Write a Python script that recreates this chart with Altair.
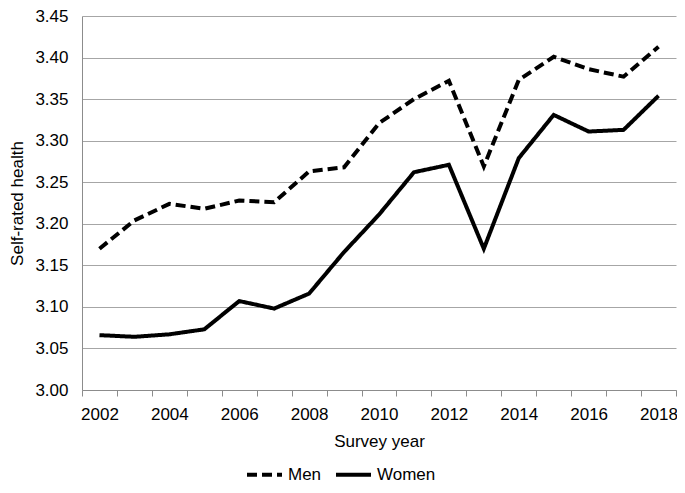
import altair as alt
import pandas as pd

years = list(range(2002, 2019))
men = [3.170, 3.204, 3.224, 3.218, 3.228, 3.226, 3.263, 3.268, 3.321, 3.350,
       3.372, 3.269, 3.373, 3.401, 3.386, 3.377, 3.413]
women = [3.066, 3.064, 3.067, 3.073, 3.107, 3.098, 3.116, 3.166, 3.211, 3.262,
         3.271, 3.170, 3.279, 3.331, 3.311, 3.313, 3.354]
series = ["Men", "Women"]
y_ticks = [3.00, 3.05, 3.10, 3.15, 3.20, 3.25, 3.30, 3.35, 3.40, 3.45]

rows = []
for name, vals in zip(series, [men, women]):
    for yr, v in zip(years, vals):
        rows.append({"year": yr, "value": v, "sex": name})
df = pd.DataFrame(rows)

FONT = "Liberation Sans"

chart = alt.Chart(df).mark_line(color="black", strokeWidth=4).encode(
    x=alt.X(
        "year:O",
        scale=alt.Scale(type="band", paddingInner=0, paddingOuter=0),
        bandPosition=0.5,
        axis=alt.Axis(
            title="Survey year",
            tickBand="extent",
            labelExpr="datum.value % 2 == 0 ? datum.label : ''",
            labelAngle=0,
            labelFont=FONT, labelFontSize=17, labelColor="black",
            titleFont=FONT, titleFontSize=17, titleFontWeight="normal", titleColor="black",
            labelPadding=10, titlePadding=11,
            tickSize=6, tickColor="#8c8c8c", domainColor="#8c8c8c",
            grid=False,
        ),
    ),
    y=alt.Y(
        "value:Q",
        scale=alt.Scale(domain=[3.0, 3.45], nice=False, zero=False),
        axis=alt.Axis(
            title="Self-rated health",
            values=y_ticks,
            format=".2f",
            ticks=False, tickSize=0,
            labelFont=FONT, labelFontSize=17, labelColor="black",
            titleFont=FONT, titleFontSize=17, titleFontWeight="normal", titleColor="black",
            labelPadding=14, titlePadding=8,
            domainColor="#8c8c8c",
            grid=True, gridColor="#a6a6a6", gridWidth=1,
        ),
    ),
    strokeDash=alt.StrokeDash(
        "sex:N",
        scale=alt.Scale(domain=series, range=[[10, 5], [1, 0]]),
        legend=alt.Legend(
            orient="none", legendX=163, legendY=439, direction="horizontal",
            title=None, symbolType="stroke", symbolStrokeWidth=4, symbolSize=1225,
            symbolStrokeColor="black", labelFont=FONT, labelFontSize=17,
            labelColor="black", columnPadding=6, labelOffset=4, padding=0,
        ),
    ),
).properties(
    width=594,
    height=374,
    autosize=alt.AutoSizeParams(type="none"),
    padding={"left": 74, "top": 8, "right": 1, "bottom": 95},
).configure_view(stroke=None)

chart.save("out.html", embed_options={"renderer": "svg", "actions": False})
